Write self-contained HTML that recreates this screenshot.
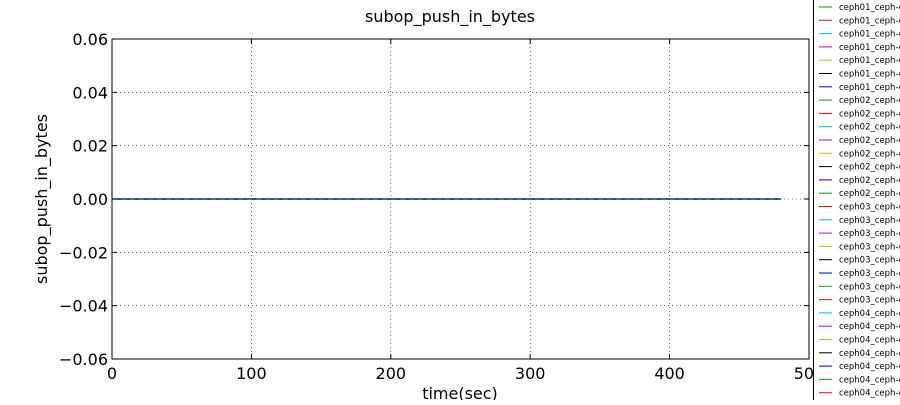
<!DOCTYPE html>
<html><head><meta charset="utf-8"><style>
body{margin:0;background:#fff;width:900px;height:400px;overflow:hidden}
svg{font-family:"DejaVu Sans","Liberation Sans",sans-serif}
</style></head><body>
<svg id="c" width="900" height="400" xmlns="http://www.w3.org/2000/svg"></svg>
<script>
const xTicks=[0,100,200,300,400,500];
const yTicks=[-0.06,-0.04,-0.02,0.00,0.02,0.04,0.06];
const yTickLabels=["\u22120.06","\u22120.04","\u22120.02","0.00","0.02","0.04","0.06"];
const seriesX=[0,480];
const seriesY=[0,0];
const legendNames=["ceph01_ceph-osd.0","ceph01_ceph-osd.1","ceph01_ceph-osd.2","ceph01_ceph-osd.3","ceph01_ceph-osd.4","ceph01_ceph-osd.5","ceph01_ceph-osd.6","ceph02_ceph-osd.7","ceph02_ceph-osd.8","ceph02_ceph-osd.9","ceph02_ceph-osd.10","ceph02_ceph-osd.11","ceph02_ceph-osd.12","ceph02_ceph-osd.13","ceph02_ceph-osd.14","ceph03_ceph-osd.15","ceph03_ceph-osd.16","ceph03_ceph-osd.17","ceph03_ceph-osd.18","ceph03_ceph-osd.19","ceph03_ceph-osd.20","ceph03_ceph-osd.21","ceph03_ceph-osd.22","ceph04_ceph-osd.23","ceph04_ceph-osd.24","ceph04_ceph-osd.25","ceph04_ceph-osd.26","ceph04_ceph-osd.27","ceph04_ceph-osd.28","ceph04_ceph-osd.29","ceph04_ceph-osd.30"];
const colors=["#00a000","#ff0000","#00c0c0","#c000c0","#c0c000","#000000","#0000ff"];
const L=112,R=809,T=39,B=359;
const sx=v=>L+(v-0)/500*(R-L);
const sy=v=>B-(v+0.06)/0.12*(B-T);
const svg=document.getElementById('c');
const NS="http://www.w3.org/2000/svg";
function mk(tag,attrs,parent){const e=document.createElementNS(NS,tag);for(const k in attrs)e.setAttribute(k,attrs[k]);(parent||svg).appendChild(e);return e;}
// grid
xTicks.forEach((v,i)=>{
  const g=mk('line',{x1:sx(v),x2:sx(v),y1:T,y2:B,stroke:'#000','stroke-width':0.6,'stroke-dasharray':'1,3'});
  
  
  const t=mk('line',{x1:sx(v),x2:sx(v),y1:B,y2:B-5,stroke:'#000'});
  
  
  const t2=mk('line',{x1:sx(v),x2:sx(v),y1:T,y2:T+5,stroke:'#000'});
  
  
  const lb=mk('text',{x:sx(v),y:B+20,'font-size':16,'text-anchor':'middle'});
  lb.textContent=String(v);
  
  
});
yTicks.forEach((v,i)=>{
  const g=mk('line',{x1:L,x2:R,y1:sy(v),y2:sy(v),stroke:'#000','stroke-width':0.6,'stroke-dasharray':'1,3'});
  
  
  const t=mk('line',{x1:L,x2:L+5,y1:sy(v),y2:sy(v),stroke:'#000'});
  
  
  const t2=mk('line',{x1:R,x2:R-5,y1:sy(v),y2:sy(v),stroke:'#000'});
  
  
  const lb=mk('text',{x:L-4,y:sy(v)+6,'font-size':16,'text-anchor':'end'});
  lb.textContent=yTickLabels[i];
  
  
});
// series
const pts=seriesX.map((x,i)=>sx(x)+','+sy(seriesY[i])).join(' ');
const s1=mk('polyline',{points:pts,fill:'none',stroke:'#4a4a6a','stroke-width':2});


const s2=mk('polyline',{points:pts,fill:'none',stroke:'#00b0b0','stroke-width':1,'stroke-dasharray':'5,4'});


// frame
const fr=mk('rect',{x:L,y:T,width:R-L,height:B-T,fill:'none',stroke:'#000','stroke-width':1});


// titles
const tt=mk('text',{x:450,y:22,'font-size':16,'text-anchor':'middle'});tt.textContent='subop_push_in_bytes';


const xt=mk('text',{x:460,y:399,'font-size':16,'text-anchor':'middle'});xt.textContent='time(sec)';


const yt=mk('text',{x:0,y:0,'font-size':16,'text-anchor':'middle',transform:'translate(47,199) rotate(-90)'});yt.textContent='subop_push_in_bytes';


// legend
const lg=mk('g',{});


mk('rect',{x:813.5,y:-5,width:100,height:420,fill:'#fff',stroke:'#000','stroke-width':1},lg);
legendNames.forEach((n,i)=>{
  const y=7+i*13.3;
  const e=mk('g',{},lg);
  
  
  mk('line',{x1:819,x2:832,y1:y,y2:y,stroke:colors[i%7],'stroke-width':1},e);
  const t=mk('text',{x:839,y:y+3,'font-size':8.5},e);t.textContent=n;
});
</script>
</body></html>
